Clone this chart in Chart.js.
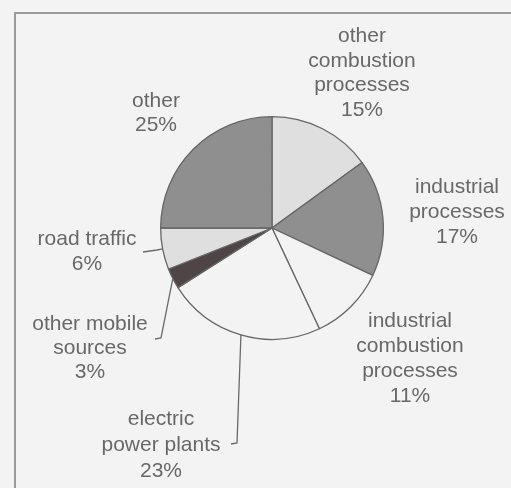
<!DOCTYPE html>
<html>
<head>
<meta charset="utf-8">
<script src="https://cdn.jsdelivr.net/npm/chart.js@4.4.1/dist/chart.umd.min.js"></script>
<style>
  html, body { margin: 0; padding: 0; background: #f3f3f4; }
  #wrap { width: 511px; height: 488px; }
</style>
</head>
<body>
<div id="wrap"><canvas id="myChart"></canvas></div>
<script>
// sources, clockwise from 12 o'clock
const categories = [
  "other combustion processes",
  "industrial processes",
  "industrial combustion processes",
  "electric power plants",
  "other mobile sources",
  "road traffic",
  "other",
];
const shares = [15, 17, 11, 23, 3, 6, 25];
const labelLines = [
  ["other", "combustion", "processes", "15%"],
  ["industrial", "processes", "17%"],
  ["industrial", "combustion", "processes", "11%"],
  ["electric", "power plants", "23%"],
  ["other mobile", "sources", "3%"],
  ["road traffic", "6%"],
  ["other", "25%"],
];
const sliceColors = ["#dfdfdf", "#8f8f8f", "#f3f3f3", "#f3f3f3", "#4f4547", "#dfdfdf", "#8f8f8f"];

// label placement: offsets of the first baseline from the pie centre (px)
const labelPos = [
  { dx: 362, dy: 42, lh: 24.5 },
  { dx: 457, dy: 193, lh: 25 },
  { dx: 410, dy: 327, lh: 25 },
  { dx: 161, dy: 425, lh: 26 },
  { dx: 90, dy: 330, lh: 24 },
  { dx: 87, dy: 245, lh: 25 },
  { dx: 156, dy: 107, lh: 24 },
].map((p) => ({ dx: p.dx - 272, dy: p.dy - 228, lh: p.lh }));
// leader lines: points (offsets from centre) after the slice edge
const leaders = {
  3: [[-35, 215], [-41, 216]],
  4: [[-111, 110], [-117, 111]],
  5: [[-115, 22], [-129, 24]],
};

const bgPlugin = {
  id: "paper",
  beforeDraw: (chart) => {
    const { ctx } = chart;
    ctx.save();
    ctx.fillStyle = "#f3f3f4";
    ctx.fillRect(0, 0, chart.width, chart.height);
    ctx.strokeStyle = "#9a9a9a";
    ctx.lineWidth = 2;
    ctx.beginPath();
    ctx.moveTo(15, chart.height);
    ctx.lineTo(15, 13);
    ctx.lineTo(chart.width, 13);
    ctx.stroke();
    ctx.restore();
  },
};

const labelPlugin = {
  id: "sliceLabels",
  afterDraw: (chart) => {
    const { ctx } = chart;
    const arcs = chart.getDatasetMeta(0).data;
    const cx = arcs[0].x;
    const cy = arcs[0].y;
    ctx.save();
    // leader lines
    ctx.strokeStyle = "#6a6a6a";
    ctx.lineWidth = 1.3;
    Object.keys(leaders).forEach((k) => {
      const a = arcs[k];
      const mid = (a.startAngle + a.endAngle) / 2;
      const ex = cx + Math.cos(mid) * a.outerRadius;
      const ey = cy + Math.sin(mid) * a.outerRadius;
      const pts = leaders[k];
      ctx.beginPath();
      ctx.moveTo(ex, ey);
      for (let i = 0; i < pts.length; i++) {
        ctx.lineTo(cx + pts[i][0], cy + pts[i][1]);
      }
      ctx.stroke();
    });
    // text
    ctx.fillStyle = "#686868";
    ctx.font = "21px 'Liberation Sans', Arial, sans-serif";
    ctx.textAlign = "center";
    ctx.textBaseline = "alphabetic";
    labelLines.forEach((lines, i) => {
      const p = labelPos[i];
      lines.forEach((t, j) => {
        ctx.fillText(t, cx + p.dx, cy + p.dy + j * p.lh);
      });
    });
    ctx.restore();
  },
};

new Chart(document.getElementById("myChart"), {
  type: "pie",
  data: {
    labels: categories,
    datasets: [
      {
        data: shares,
        backgroundColor: sliceColors,
        borderColor: "#666",
        borderWidth: 1.3,
      },
    ],
  },
  options: {
    responsive: true,
    maintainAspectRatio: false,
    animation: false,
    layout: {
      padding: { left: 160, right: 127, top: 116, bottom: 148 },
    },
    plugins: {
      legend: { display: false },
      tooltip: { enabled: false },
    },
  },
  plugins: [bgPlugin, labelPlugin],
});
</script>
</body>
</html>
